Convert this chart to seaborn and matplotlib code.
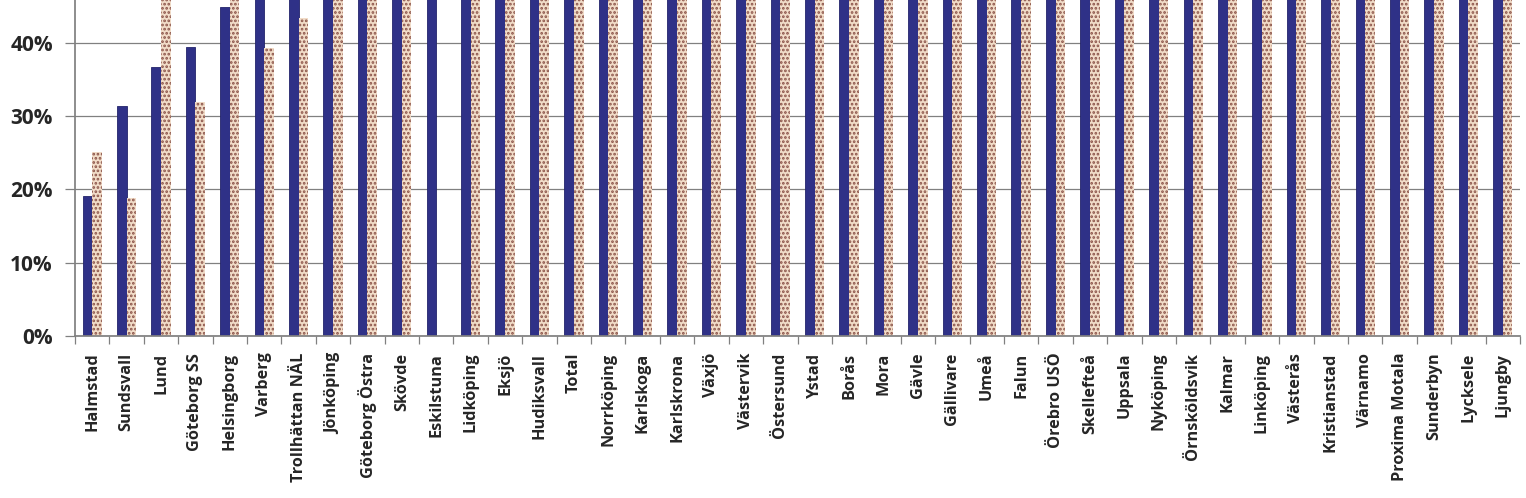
import numpy as np
import pandas as pd
import matplotlib
matplotlib.use("Agg")
import matplotlib.pyplot as plt
import seaborn as sns
from matplotlib.ticker import PercentFormatter, FixedLocator

categories = ["Halmstad", "Sundsvall", "Lund", "Göteborg SS", "Helsingborg", "Varberg",
              "Trollhättan NÄL", "Jönköping", "Göteborg Östra", "Skövde", "Eskilstuna",
              "Lidköping", "Eksjö", "Hudiksvall", "Total", "Norrköping", "Karlskoga",
              "Karlskrona", "Växjö", "Västervik", "Östersund", "Ystad", "Borås", "Mora",
              "Gävle", "Gällivare", "Umeå", "Falun", "Örebro USÖ", "Skellefteå", "Uppsala",
              "Nyköping", "Örnsköldsvik", "Kalmar", "Linköping", "Västerås", "Kristianstad",
              "Värnamo", "Proxima Motala", "Sunderbyn", "Lycksele", "Ljungby"]

# values in % (bars above ~46% are cut off by the visible area; estimated)
series_a = [19.1, 31.4, 36.7, 39.4, 44.9, 47, 48, 49, 50, 51, 52, 53, 54, 55, 56, 57, 58,
            59, 60, 61, 62, 63, 64, 65, 66, 67, 68, 69, 70, 71, 72, 73, 74, 75, 76, 77,
            78, 79, 80, 81, 82, 83]
series_b = [25.1, 18.8, 50, 31.9, 52, 39.3, 43.4, 55, 56, 57, np.nan, 58, 59, 60, 61, 62,
            63, 64, 65, 66, 67, 68, 69, 70, 71, 72, 73, 74, 75, 76, 77, 78, 79, 80, 81,
            82, 83, 84, 85, 86, 87, 88]
series_names = ["A", "B"]

df = pd.DataFrame({
    "cat": categories * 2,
    "val": list(series_a) + list(series_b),
    "series": [series_names[0]] * len(categories) + [series_names[1]] * len(categories),
})

sns.set_theme(style="white")
plt.rcParams["font.family"] = ["Open Sans", "DejaVu Sans"]
plt.rcParams["hatch.linewidth"] = 1.3

fig = plt.figure(figsize=(15.26, 4.98), dpi=100)
ax = fig.add_axes([75 / 1526, 1 - 336 / 498, 1445 / 1526, 336 / 498])

sns.barplot(data=df, x="cat", y="val", hue="series", order=categories,
            hue_order=series_names, palette=["#2f3187", "#f1dcc8"], width=0.56,
            saturation=1, legend=False, ax=ax, err_kws={"linewidth": 0})

n = len(categories)
for i, p in enumerate(ax.patches):
    if i >= n:
        p.set_hatch("....")
        p.set_edgecolor("#8a5248")
        p.set_linewidth(0)
    else:
        p.set_edgecolor("#23246b")
        p.set_linewidth(0.6)

ax.set_ylim(0, 45.8)
ax.set_xlim(-0.5, n - 0.5)
ax.set_yticks([0, 10, 20, 30, 40])
ax.yaxis.set_major_formatter(PercentFormatter(decimals=0))
ax.grid(axis="y", color="#808080", linewidth=0.9)
ax.set_axisbelow(True)
for s in ["top", "right"]:
    ax.spines[s].set_visible(False)
ax.spines["left"].set_color("#808080")
ax.spines["bottom"].set_color("#808080")

ax.set_xticks(range(n))
ax.set_xticklabels(categories, rotation=90, fontsize=11.7, fontweight="bold")
ax.tick_params(axis="x", which="major", length=0, pad=12)
ax.xaxis.set_minor_locator(FixedLocator(np.arange(-0.5, n, 1)))
ax.tick_params(axis="x", which="minor", length=6, color="#808080", width=0.9, bottom=True)
ax.tick_params(axis="y", length=7, color="#808080", width=0.9, left=True, labelsize=15, pad=9)
for t in ax.get_yticklabels():
    t.set_fontweight("bold")
ax.set_xlabel("")
ax.set_ylabel("")

fig.savefig("out.png", dpi=100)
